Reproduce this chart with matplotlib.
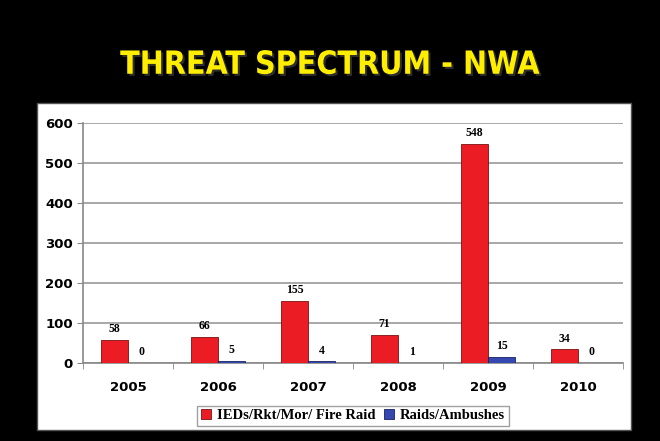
import matplotlib.pyplot as plt
import matplotlib.patheffects as pe
from matplotlib.patches import Rectangle
import numpy as np

years = ['2005', '2006', '2007', '2008', '2009', '2010']
ieds = [58, 66, 155, 71, 548, 34]
raids = [0, 5, 4, 1, 15, 0]
labels = ['IEDs/Rkt/Mor/ Fire Raid', 'Raids/Ambushes']

RED = '#ec1c24'
BLUE = '#3548b0'

fig = plt.figure(figsize=(6.6, 4.41), dpi=100, facecolor='black')

# white panel behind the chart
fig.patches.append(Rectangle((0.056, 0.025), 0.900, 0.741, transform=fig.transFigure,
                             facecolor='white', edgecolor='#555555', lw=1, zorder=-5))

fig.text(0.5, 0.852, 'THREAT SPECTRUM - NWA', color='#ffee00', fontsize=23,
         fontweight='bold', fontstretch='condensed', ha='center', va='center',
         family='DejaVu Sans',
         path_effects=[pe.withSimplePatchShadow(offset=(1.5, -1.5), shadow_rgbFace='#333333', alpha=0.9)])

ax = fig.add_axes([0.126, 0.177, 0.818, 0.544])
ax.set_facecolor('white')
x = np.arange(len(years))
w = 0.3
b1 = ax.bar(x - w / 2, ieds, w, color=RED, edgecolor='#7a1010', lw=0.6, label=labels[0], zorder=3)
b2 = ax.bar(x + w / 2, raids, w, color=BLUE, edgecolor='#1a2060', lw=0.6, label=labels[1], zorder=3)

for bars in (b1, b2):
    for r in bars:
        ax.text(r.get_x() + r.get_width() / 2, r.get_height() + 12, str(int(r.get_height())),
                ha='center', va='bottom', fontsize=8.5, fontweight='bold', family='Liberation Serif')

ax.set_ylim(0, 600)
ax.set_xlim(-0.5, len(years) - 0.5)
ax.set_yticks(range(0, 601, 100))
ax.yaxis.grid(True, color='#999999', lw=1.2, zorder=0)
ax.set_axisbelow(True)
ax.set_xticks(x)
ax.set_xticklabels(years)
ax.set_xticks(np.arange(-0.5, len(years), 1), minor=True)
ax.tick_params(axis='x', which='major', length=0, pad=13)
ax.tick_params(axis='x', which='minor', length=4, color='#888888')
ax.tick_params(axis='y', length=4, color='#888888')
for lab in ax.get_xticklabels() + ax.get_yticklabels():
    lab.set_fontweight('bold')
    lab.set_fontsize(9.5)
    lab.set_family('DejaVu Sans')
for s in ('top', 'right'):
    ax.spines[s].set_visible(False)
for s in ('left', 'bottom'):
    ax.spines[s].set_color('#888888')
    ax.spines[s].set_linewidth(1.2)

leg = fig.legend(loc='center', bbox_to_anchor=(0.535, 0.057), ncol=2, frameon=True,
                 fancybox=False, edgecolor='#888888', handlelength=0.7, handleheight=0.7,
                 handletextpad=0.4, columnspacing=0.6, borderpad=0.25,
                 prop={'family': 'Liberation Serif', 'weight': 'bold', 'size': 10.5})

fig.savefig('out.png', dpi=100, facecolor='black')
